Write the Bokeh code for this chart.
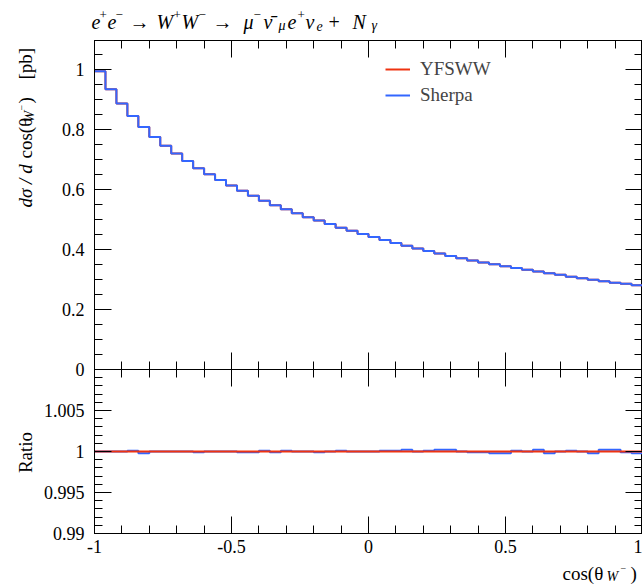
import numpy as np
from bokeh.plotting import figure
from bokeh.layouts import column
from bokeh.models import (Range1d, LinearAxis, FixedTicker, Legend, LegendItem,
                          CustomJSTickFormatter)
from bokeh.core.properties import value
from bokeh.embed import file_html
from bokeh.resources import INLINE

# ---------------- data ----------------
x_lo, x_hi, n_bins = -1.0, 1.0, 50
edges = list(np.linspace(x_lo, x_hi, n_bins + 1))

yfsww = [0.993, 0.933, 0.885, 0.844, 0.807, 0.774, 0.745, 0.719, 0.694, 0.670,
         0.650, 0.631, 0.612, 0.595, 0.578, 0.562, 0.547, 0.533, 0.520, 0.507,
         0.496, 0.484, 0.472, 0.462, 0.451, 0.441, 0.431, 0.421, 0.412, 0.403,
         0.394, 0.386, 0.378, 0.370, 0.363, 0.356, 0.350, 0.344, 0.338, 0.332,
         0.326, 0.320, 0.315, 0.309, 0.304, 0.299, 0.294, 0.289, 0.285, 0.280]
sherpa = [0.993, 0.933, 0.885, 0.844, 0.807, 0.774, 0.745, 0.719, 0.694, 0.670,
          0.650, 0.631, 0.612, 0.595, 0.578, 0.562, 0.547, 0.533, 0.520, 0.507,
          0.496, 0.484, 0.472, 0.462, 0.451, 0.441, 0.431, 0.421, 0.412, 0.403,
          0.394, 0.386, 0.378, 0.370, 0.363, 0.356, 0.350, 0.344, 0.338, 0.332,
          0.326, 0.320, 0.315, 0.309, 0.304, 0.299, 0.294, 0.289, 0.285, 0.280]
ratio_yfsww = [1.0] * 50
ratio_sherpa = [1.0000, 1.0000, 1.0000, 1.0001, 0.9998, 1.0000, 1.0000, 1.0000, 1.0000, 0.9999,
                1.0000, 1.0000, 1.0000, 0.9999, 0.9999, 1.0001, 0.9999, 1.0001, 1.0000, 1.0000,
                0.9999, 1.0000, 1.0001, 1.0000, 1.0000, 1.0000, 1.0001, 1.0001, 1.0002, 1.0000,
                1.0001, 1.0002, 1.0002, 1.0000, 0.9999, 0.9999, 0.9998, 0.9998, 1.0001, 1.0000,
                1.0002, 0.9998, 1.0000, 1.0001, 1.0000, 0.9998, 1.0002, 1.0002, 0.9999, 0.9998]

x_major = [-1, -0.5, 0, 0.5, 1]
x_minor = [round(-1 + 0.1 * i, 2) for i in range(21)]
y_major = [0, 0.2, 0.4, 0.6, 0.8, 1.0]
y_minor = [round(0.05 * i, 2) for i in range(23)]
r_major = [0.99, 0.995, 1.0, 1.005]
r_minor = [round(0.99 + 0.001 * i, 3) for i in range(21)]

# ---------------- style ----------------
FONT = "Liberation Serif"
RED = "#EE3311"
BLUE = "#3366FF"
W, H = 642, 584
LEFT = 94


def make_fig(h, yr, top, bottom, **kw):
    p = figure(width=W, height=h, x_range=Range1d(x_lo, x_hi), y_range=yr,
               toolbar_location=None, output_backend="svg",
               x_axis_location=None, y_axis_location=None,
               min_border_left=LEFT, min_border_right=0,
               min_border_top=top, min_border_bottom=bottom, **kw)
    p.outline_line_color = "black"
    p.outline_line_width = 1
    p.outline_line_alpha = 1.0
    p.xgrid.grid_line_color = None
    p.ygrid.grid_line_color = None
    p.background_fill_color = "white"
    return p


def add_axis(p, place, ticks, minor, labels):
    ax = LinearAxis(ticker=FixedTicker(ticks=ticks, minor_ticks=minor))
    ax.major_tick_in = 17
    ax.major_tick_out = 0
    ax.minor_tick_in = 8
    ax.minor_tick_out = 0
    ax.axis_line_color = "black"
    ax.major_tick_line_color = "black"
    ax.minor_tick_line_color = "black"
    if labels:
        ax.formatter = CustomJSTickFormatter(code="return String(Math.round(tick*1000)/1000);")
        ax.major_label_text_font = FONT
        ax.major_label_text_font_size = "18px"
        ax.major_label_text_color = "black"
        ax.major_label_standoff = 10 if place == "left" else 6
    else:
        ax.formatter = CustomJSTickFormatter(code="return '';")
        ax.major_label_text_font_size = "0px"
        ax.major_label_standoff = 0
    p.add_layout(ax, place)


def step_y(vals):
    return list(vals) + [vals[-1]]


# ---------------- top panel ----------------
p1 = make_fig(379, Range1d(0, 1.095), 40, 10)
p1.border_fill_color = "white"
add_axis(p1, "below", x_major, x_minor, False)
add_axis(p1, "above", x_major, x_minor, False)
add_axis(p1, "left", y_major, y_minor, True)
add_axis(p1, "right", y_major, y_minor, False)

r_red = p1.step(x=edges, y=step_y(yfsww), mode="after", line_color=RED, line_width=2)
r_blue = p1.step(x=edges, y=step_y(sherpa), mode="after", line_color=BLUE, line_width=2)

legend = Legend(items=[LegendItem(label="YFSWW", renderers=[r_red]),
                       LegendItem(label="Sherpa", renderers=[r_blue])],
                location=(291, 263), padding=0, margin=0, spacing=4,
                glyph_width=25, glyph_height=20, label_height=20, label_standoff=10,
                label_text_font=FONT, label_text_font_size="19px",
                border_line_color=None, background_fill_alpha=0)
p1.add_layout(legend)

# ---------------- ratio panel ----------------
p2 = make_fig(215, Range1d(0.99, 1.01), 0, 51, margin=(-10, 0, 0, 0))
p2.border_fill_alpha = 0.0
add_axis(p2, "below", x_major, x_minor, True)
add_axis(p2, "above", x_major, x_minor, False)
add_axis(p2, "left", r_major, r_minor, True)
add_axis(p2, "right", r_major, r_minor, False)

p2.step(x=edges, y=step_y(ratio_sherpa), mode="after", line_color=BLUE, line_width=2)
p2.step(x=edges, y=step_y(ratio_yfsww), mode="after", line_color=RED, line_width=2)

# ---------------- text overlay (page pixel coordinates) ----------------
ov = figure(width=W, height=H, x_range=Range1d(0, W), y_range=Range1d(H, 0),
            toolbar_location=None, output_backend="svg",
            x_axis_location=None, y_axis_location=None,
            min_border_left=0, min_border_right=0, min_border_top=0, min_border_bottom=0)
ov.outline_line_color = None
ov.background_fill_alpha = 0.0
ov.border_fill_alpha = 0.0
ov.xgrid.grid_line_color = None
ov.ygrid.grid_line_color = None


def put(text, x, y, size, style="normal", angle=0.0, align="left"):
    ov.text(x=[x], y=[y], text=[text], angle=angle,
            text_font=value(FONT), text_font_size=value(f"{size}px"),
            text_font_style=value(style), text_color="black",
            text_align=value(align), text_baseline=value("alphabetic"))


# title: e+e- -> W+W- -> mu- nubar_mu e+ nu_e + N_gamma
TB, SUP, SUB = 21, 14, 25
put("e", 91, TB, 20, "italic")
put("+", 99, SUP, 13)
put("e", 107, TB, 20, "italic")
put("−", 115, SUP, 13)
put("→", 129, TB, 20)
put("W", 156, TB, 20, "italic")
put("+", 173, SUP, 13)
put("W", 181, TB, 20, "italic")
put("−", 198, SUP, 13)
put("→", 212, TB, 20)
put("μ", 243, TB, 20, "italic")
put("−", 253, SUP, 13)
put("ν̄", 263, TB, 20, "italic")
put("μ", 278, SUB, 14, "italic")
put("e", 287, TB, 20, "italic")
put("+", 297, SUP, 13)
put("ν", 305, TB, 20, "italic")
put("e", 316, SUB, 14, "italic")
put("+", 328, TB, 20)
put("N", 352, TB, 20, "italic")
put("γ", 371, SUB, 14, "italic")

# y label of the top panel (rotated, reading upward)
A = np.pi / 2
YB = 25
put("dσ / d", YB, 207, 19, "italic", A)
put("cos(θ", YB, 158, 19, "normal", A)
put("W", YB + 4, 122, 14, "italic", A)
put("−", YB - 4, 110, 10, "normal", A)
put(")", YB, 103, 19, "normal", A)
put("[pb]", YB, 79, 19, "normal", A)

# y label of the ratio panel
put("Ratio", YB, 452, 19, "normal", A, "center")

# x label
XB = 573
put("cos(θ", 562, XB, 19)
put("W", 606, XB + 3, 14, "italic")
put("−", 620, XB - 5, 10)
put(")", 630, XB, 19)

layout = column(p1, p2, column(ov, margin=(-H, 0, 0, 0)), spacing=0)
open("out.html", "w").write(file_html(layout, INLINE))
